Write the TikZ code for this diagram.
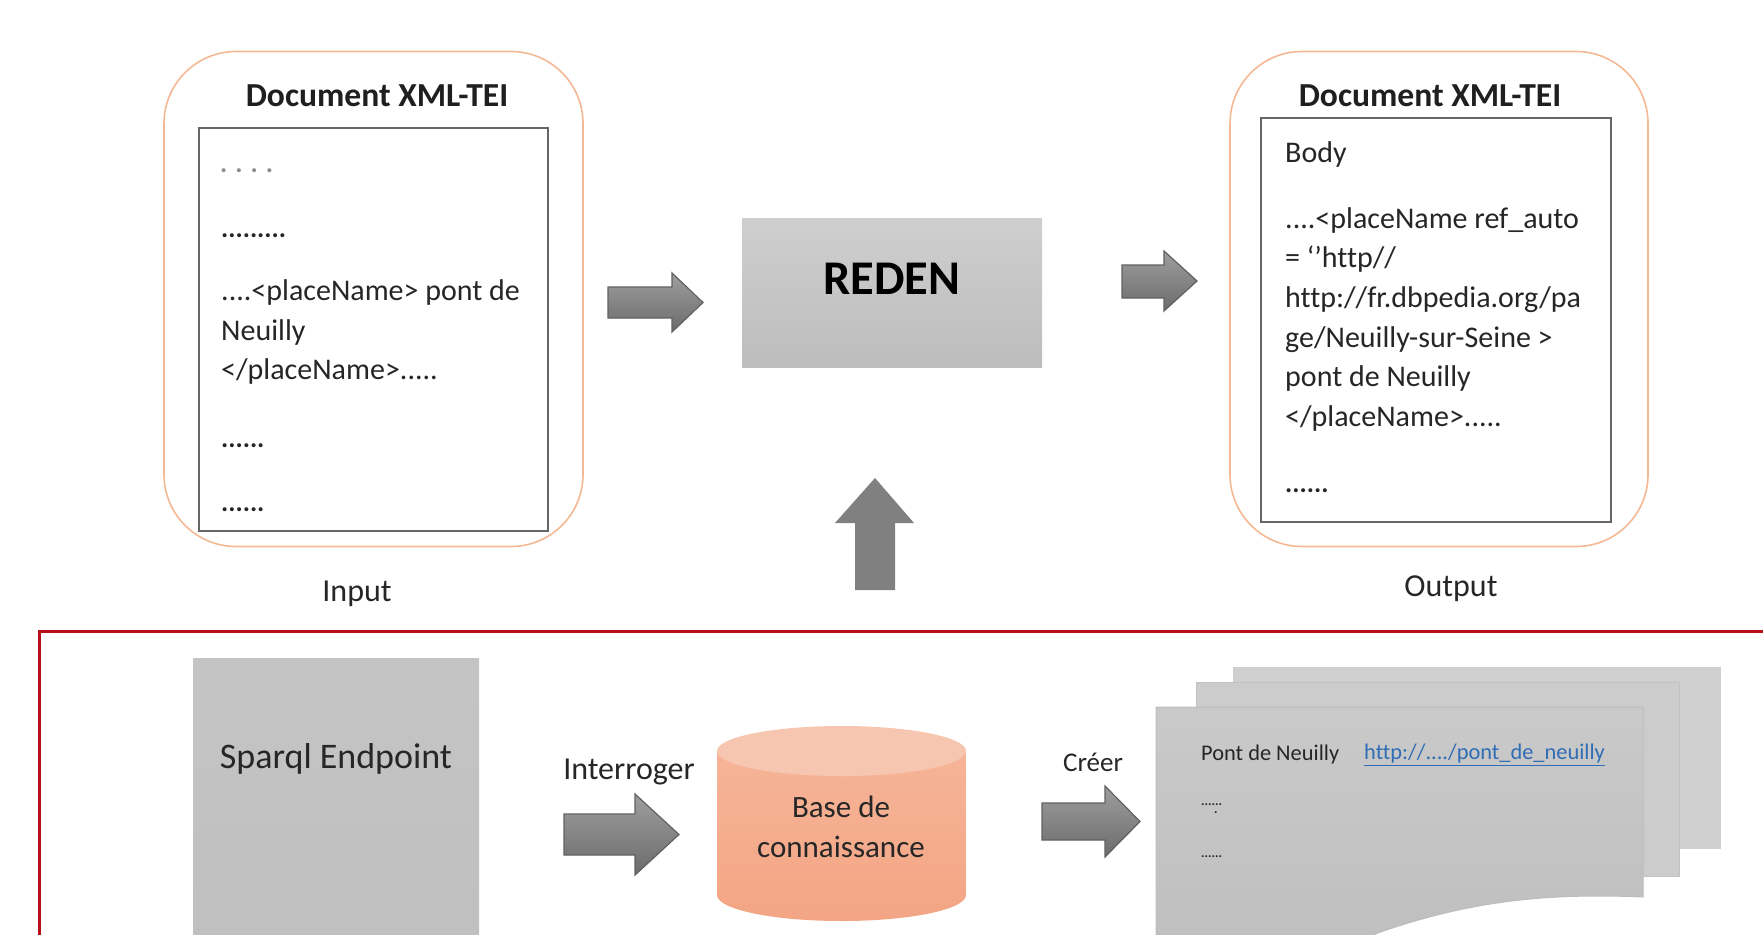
\documentclass[tikz,border=0pt]{standalone}
\usepackage{fontspec}
\setmainfont[Ligatures=NoCommon]{Carlito}
\usetikzlibrary{shapes.geometric}
\definecolor{redline}{HTML}{B80F18}
\definecolor{ringc}{HTML}{F4B994}
\definecolor{txt}{HTML}{262626}
\definecolor{linkc}{HTML}{2F6DB5}
\definecolor{cylA}{HTML}{F6B498}
\definecolor{cylB}{HTML}{F3A584}
\definecolor{cylT}{HTML}{F7C6B0}
\tikzset{
  ring/.style={draw=ringc,line width=1.6pt,rounded corners=72pt,fill=white},
  sheet/.style={draw=black!60,line width=1.8pt,fill=white},
  greybox/.style={top color=black!19,bottom color=black!26,draw=none},
  flatbox/.style={top color=black!23,bottom color=black!25,draw=none},
  blockarrow/.style={top color=black!38,bottom color=black!58,draw=black!62,line width=1.2pt,line join=miter},
  tx/.style={inner sep=0pt,text=txt,font=\fontsize{30}{39.7}\selectfont,align=left,anchor=north west},
  dotx/.style={inner sep=0pt,text=txt,font=\fontsize{27}{39.7}\selectfont\bfseries,align=left,anchor=north west},
  lbl/.style={inner sep=0pt,text=txt,font=\fontsize{32}{38}\selectfont,align=center},
  smalltx/.style={inner sep=0pt,text=txt,font=\fontsize{22.4}{26}\selectfont,anchor=west},
  tinydots/.style={inner sep=0pt,text=txt,font=\fontsize{13}{15}\selectfont\bfseries,anchor=west},
  head/.style={inner sep=0pt,text=black!88,font=\fontsize{33.6}{40}\selectfont\bfseries},
}
\newcommand{\rarrow}[7]{% x0 xbase xtip ytop(head) yshafttop yshaftbot yheadbot
  \path[blockarrow] (#1,#5) -- (#2,#5) -- (#2,#4) -- (#3,{(#4+#7)/2}) -- (#2,#7) -- (#2,#6) -- (#1,#6) -- cycle;}
\begin{document}
\begin{tikzpicture}[x=1pt,y=-1pt]
\useasboundingbox (0,0) rectangle (1763,934);
\clip (0,0) rectangle (1763,934);
% input document
\node[ring,minimum width=419pt,minimum height=495pt] (ringL) at (373.5,299) {};
\node[sheet,minimum width=349pt,minimum height=403pt,inner sep=0pt] (sheetL) at (373.5,329.5) {};
\node[head] (titleL) at (377,96) {Document XML-TEI};
\node[dotx] (dotsA) at (220,169) {\textcolor{black!45}{.\hspace{8pt}.\hspace{8pt}.\hspace{8pt}.}};
\node[dotx] (dotsB) at (221,234) {.........};
\node[tx] (bodyL) at (221,279.5) {....<placeName> pont de\\Neuilly\\</placeName>.....};
\node[dotx] (dotsC) at (221,443) {......};
\node[dotx] (dotsD) at (221,507) {......};
\node[lbl] (inputL) at (357,594) {Input};
% arrow in
\rarrow{608}{672}{703}{273}{287}{318}{332}
% reden
\node[greybox,minimum width=300pt,minimum height=149pt,inner sep=0pt] (reden) at (892,292.5) {};
\node[inner sep=0pt,text=black,font=\fontsize{48.4}{56}\selectfont\bfseries] (redenT) at (892,279) {REDEN};
% arrow out
\rarrow{1122}{1164}{1197}{251}{265}{298}{311}
% output document
\node[ring,minimum width=418pt,minimum height=495pt] (ringR) at (1439,299) {};
\node[sheet,minimum width=350pt,minimum height=404pt,inner sep=0pt] (sheetR) at (1436,320) {};
\node[head] (titleR) at (1430,96) {Document XML-TEI};
\node[tx] (bodyA) at (1285,141) {Body};
\node[tx] (bodyR) at (1285,207) {....<placeName ref\_auto\\= ‘’http//\\http://fr.dbpedia.org/pa\\ge/Neuilly-sur-Seine >\\pont de Neuilly\\</placeName>.....};
\node[dotx] (dotsE) at (1285,488) {......};
\node[lbl] (outputL) at (1451,589) {Output};
% up arrow
\path[fill=black!50] (855,590) -- (855,523) -- (835,523) -- (875,478) -- (914,523) -- (895,523) -- (895,590) -- cycle;
% red frame
\draw[redline,line width=3pt] (39,940) -- (39,631) -- (1770,631);
% sparql
\node[flatbox,minimum width=286pt,minimum height=300pt,inner sep=0pt,anchor=north west] (sparql) at (193,658) {};
\node[lbl,font=\fontsize{36}{42}\selectfont] (sparqlT) at (336,759) {Sparql Endpoint};
% interroger
\node[lbl] (interT) at (629,772) {Interroger};
\rarrow{564}{635}{679}{794}{814}{855}{875}
% cylinder
\path[top color=cylA,bottom color=cylB] (717,750) -- (717,895) arc[start angle=180,end angle=360,x radius=124.5pt,y radius=26pt] -- (966,750) -- cycle;
\path[fill=cylT] (841.5,751) ellipse[x radius=124.5pt,y radius=25pt];
\node[lbl,font=\fontsize{31}{40.5}\selectfont] (baseT) at (841,827) {Base de\\connaissance};
% creer
\node[lbl,font=\fontsize{27}{32}\selectfont] (creerT) at (1093,762) {Créer};
\rarrow{1042}{1105}{1140}{786}{803}{840}{857}
% pages
\path[fill=black!19] (1233,667) rectangle (1721,849);
\path[fill=black!20,draw=black!24,line width=1pt] (1196,682) rectangle (1679,876);
\path[top color=black!21,bottom color=black!25,draw=black!26,line width=1pt] (1156,707) -- (1643,707) -- (1643,897) .. controls (1550,893) and (1470,900) .. (1375,934) -- (1375,940) -- (1156,940) -- cycle;
\node[smalltx] (pont) at (1201,755) {Pont de Neuilly};
\node[smalltx,text=linkc] (link) at (1364,755) {\underline{http://..../pont\_de\_neuilly}};
\node[tinydots] (dotsF) at (1201,805) {......};
\node[tinydots] (dotsF2) at (1214,813) {.};
\node[tinydots] (dotsG) at (1201,857) {......};
\end{tikzpicture}
\end{document}
